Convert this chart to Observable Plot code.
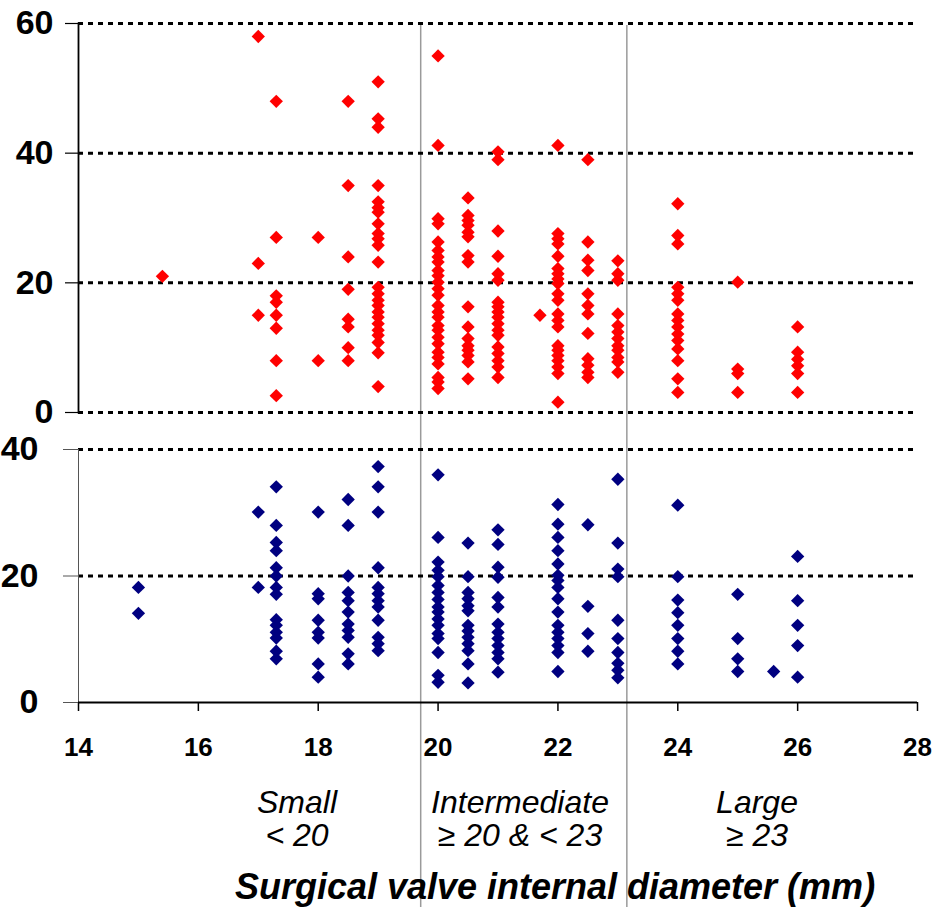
<!DOCTYPE html>
<html><head><meta charset="utf-8">
<script src="https://cdn.jsdelivr.net/npm/d3@7"></script>
<script src="https://cdn.jsdelivr.net/npm/@observablehq/plot@0.6"></script>
<style>
body{margin:0;background:#fff;}
#wrap{position:relative;width:937px;height:907px;overflow:hidden;font-family:"Liberation Sans",Arial,sans-serif;background:#fff;}
#wrap svg{position:absolute;left:0;overflow:visible;background:transparent;}
.lbl{position:absolute;transform:translateX(-50%);font-style:italic;font-size:32px;white-space:nowrap;line-height:1;color:#000;}
.ttl{position:absolute;transform:translateX(-50%);font-style:italic;font-weight:bold;font-size:36px;white-space:nowrap;line-height:1;color:#000;}
</style></head><body><div id="wrap"></div>
<script>
// ---- data ----
const xDomain = [14, 28];
const xTicks = [14, 16, 18, 20, 22, 24, 26, 28];
const topTicks = [0, 20, 40, 60];
const bottomTicks = [0, 20, 40];
const groupBounds = [19.71, 23.15];
const categoryNames = ["Small", "Intermediate", "Large"];
const categoryRanges = ["< 20", "\u2265 20 & < 23", "\u2265 23"];
const axisTitle = "Surgical valve internal diameter (mm)";

const redSeries = [
  {d: 15.4, v: [21]},
  {d: 17, v: [58, 23, 15]},
  {d: 17.3, v: [48, 27, 18, 17, 15, 13, 8, 2.6]},
  {d: 18, v: [27, 8]},
  {d: 18.5, v: [48, 35, 24, 19, 14.4, 13.2, 10, 8]},
  {d: 19, v: [51, 45.3, 44, 35, 32.5, 31.6, 30.9, 29.1, 27.6, 26.8, 25.8, 23.2, 19.3, 18.3, 17.3, 16.5, 15.5, 14.7, 13.7, 12.7, 11.9, 10.8, 9.2, 4]},
  {d: 20, v: [55, 41.2, 29.9, 29.1, 26.3, 25, 24, 23.2, 21.9, 21.1, 20.1, 19.1, 18.1, 16.5, 15.5, 14.7, 13.4, 12.7, 11.6, 10.6, 9.3, 8.5, 7.5, 5.4, 4.7, 3.7]},
  {d: 20.5, v: [33.1, 30.4, 29.6, 28.9, 27.8, 27.1, 24.2, 23.2, 16.3, 13.2, 11.4, 10.3, 9.6, 8.8, 7.8, 5.2]},
  {d: 21, v: [40.2, 39, 28, 24.1, 21.4, 20.4, 17, 16.3, 15.5, 14.7, 13.7, 12.7, 11.9, 10.1, 9.1, 8, 7, 5.4]},
  {d: 21.7, v: [15]},
  {d: 22, v: [41.2, 27.6, 26.8, 26, 24.1, 22.2, 21.4, 20.6, 19.9, 18.3, 17.3, 15.2, 14.2, 13.2, 10.3, 9.6, 8.8, 8, 7, 6, 1.6]},
  {d: 22.5, v: [39, 26.3, 23.5, 21.9, 18.3, 16.5, 15.2, 12.2, 8.3, 7.3, 6.2, 5.4]},
  {d: 23, v: [23.4, 21.4, 20.4, 15.2, 13.4, 12.4, 11.4, 10.3, 9.6, 8.5, 7.8, 6.2]},
  {d: 24, v: [32.2, 27.3, 26, 19.3, 18.3, 17.3, 15.2, 14.2, 13.2, 12.1, 11.1, 9.8, 8, 5.2, 3.1]},
  {d: 25, v: [20.1, 6.7, 6, 3.1]},
  {d: 26, v: [13.2, 9.3, 8.2, 7.2, 6, 3.1]}
];

const blueSeries = [
  {d: 15, v: [18.2, 14.1]},
  {d: 17, v: [30.1, 18.2]},
  {d: 17.3, v: [34.1, 28, 25.3, 24, 21.3, 20, 18.2, 17.1, 13.1, 12.2, 11.1, 10.2, 8.1, 6.9]},
  {d: 18, v: [30.1, 17.2, 16.4, 13, 11.1, 10.2, 6.1, 4]},
  {d: 18.5, v: [32.1, 28, 20, 17.4, 16.1, 14.3, 12.4, 11.4, 10.3, 7.7, 6.1]},
  {d: 19, v: [37.3, 34.1, 30.1, 21.3, 18.2, 17.2, 16.1, 15.1, 13, 10.3, 9.3, 8.2]},
  {d: 20, v: [36, 26.1, 22.2, 20.9, 19.9, 18.5, 17.4, 16.3, 15.1, 14.3, 13.2, 12.2, 10.9, 10.1, 7.9, 4.3, 3.2]},
  {d: 20.5, v: [25.2, 19.9, 17.4, 16.4, 15.3, 14.5, 12.2, 11.3, 10.3, 9.3, 8.2, 6.1, 3.1]},
  {d: 21, v: [27.3, 25, 21.4, 19.8, 16.6, 15.1, 12.4, 11.1, 10.1, 9, 7.9, 6.9, 4.8]},
  {d: 22, v: [31.3, 28.2, 26.1, 24, 21.9, 20.1, 19.3, 18.2, 16.4, 14.3, 12.2, 11.1, 10.1, 9, 7.9, 4.9]},
  {d: 22.5, v: [28.1, 15.2, 10.9, 8.1]},
  {d: 23, v: [35.3, 25.2, 21.1, 19.9, 13, 10.1, 7.9, 6.2, 5.1, 3.9]},
  {d: 24, v: [31.2, 19.9, 16.2, 14.2, 12.2, 10.1, 8.1, 6.1]},
  {d: 25, v: [17.1, 10.1, 6.9, 4.9]},
  {d: 25.6, v: [4.9]},
  {d: 26, v: [23.1, 16.1, 12.2, 9, 4]}
];

const flat = s => s.flatMap(g => g.v.map(v => ({x: g.d, y: v})));
const redData = flat(redSeries);
const blueData = flat(blueSeries);

const wrap = document.getElementById("wrap");
const font = "'Liberation Sans', Arial, sans-serif";

// ---- top panel ----
const topPlot = Plot.plot({
  width: 937, height: 430,
  marginLeft: 78, marginRight: 20, marginTop: 23, marginBottom: 18,
  style: {fontFamily: font, background: "transparent", overflow: "visible"},
  x: {domain: xDomain, axis: null},
  y: {domain: [0, 60], axis: null},
  marks: [
    Plot.ruleX(groupBounds, {stroke: "#9a9a9a", strokeWidth: 1.5, insetTop: 2, insetBottom: -18}),
    Plot.ruleY(topTicks, {stroke: "#000", strokeWidth: 3, strokeDasharray: "5,5"}),
    Plot.frame({anchor: "left", stroke: "#000", strokeWidth: 1.8}),
    Plot.axisY({ticks: topTicks, tickSize: 13, tickPadding: 12, fontSize: 34, fontWeight: "bold", label: null, stroke: "#000", strokeWidth: 1.2}),
    Plot.dot(redData, {x: "x", y: "y", symbol: "diamond2", r: 6, fill: "#ff0000", stroke: "none"})
  ]
});
topPlot.style.top = "0px";
wrap.appendChild(topPlot);

// ---- bottom panel ----
const bottomPlot = Plot.plot({
  width: 937, height: 477,
  marginLeft: 78, marginRight: 20, marginTop: 19, marginBottom: 205,
  style: {fontFamily: font, background: "transparent", overflow: "visible"},
  x: {domain: xDomain, axis: null},
  y: {domain: [0, 40], axis: null},
  marks: [
    Plot.ruleX(groupBounds, {stroke: "#9a9a9a", strokeWidth: 1.5, insetTop: -19, insetBottom: -205}),
    Plot.ruleY(bottomTicks.filter(t => t > 0), {stroke: "#000", strokeWidth: 3, strokeDasharray: "5,5"}),
    Plot.frame({anchor: "left", stroke: "#555", strokeWidth: 1}),
    Plot.ruleY([0], {stroke: "#000", strokeWidth: 2}),
    Plot.axisX({ticks: xTicks, tickSize: 9, tickPadding: 26, fontSize: 26, fontWeight: "bold", label: null, stroke: "#000", strokeWidth: 1.5}),
    Plot.axisY({ticks: bottomTicks, tickSize: 15, tickPadding: 25, fontSize: 34, fontWeight: "bold", label: null, stroke: "#555", strokeWidth: 1}),
    Plot.dot(blueData, {x: "x", y: "y", symbol: "diamond2", r: 6, fill: "#000080", stroke: "none"})
  ]
});
bottomPlot.style.top = "430px";
wrap.appendChild(bottomPlot);

// ---- category labels and axis title ----
const catCenters = [297, 520, 757];
categoryNames.forEach((name, i) => {
  const a = document.createElement("div");
  a.className = "lbl"; a.textContent = name;
  a.style.left = catCenters[i] + "px"; a.style.top = "786px";
  wrap.appendChild(a);
  const b = document.createElement("div");
  b.className = "lbl"; b.textContent = categoryRanges[i];
  b.style.left = catCenters[i] + "px"; b.style.top = "819px";
  wrap.appendChild(b);
});
const t = document.createElement("div");
t.className = "ttl"; t.textContent = axisTitle;
t.style.left = "555px"; t.style.top = "869px";
wrap.appendChild(t);
</script></body></html>
